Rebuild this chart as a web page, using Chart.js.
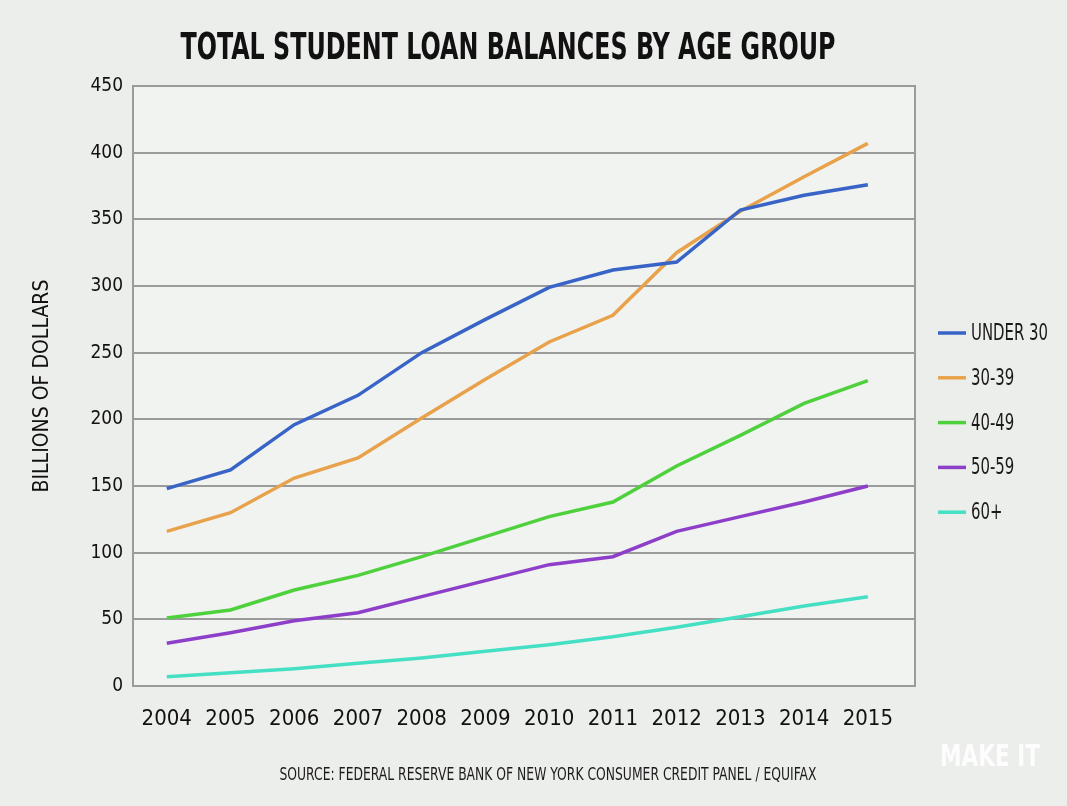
<!DOCTYPE html>
<html>
<head>
<meta charset="utf-8">
<script src="https://cdn.jsdelivr.net/npm/chart.js@4.4.1/dist/chart.umd.min.js"></script>
<style>
  html, body { margin: 0; padding: 0; background: #eceeeb; }
  #wrap { width: 1067px; height: 806px; position: relative; }
</style>
</head>
<body>
<div id="wrap"><canvas id="loanChart" width="1067" height="806"></canvas></div>
<script>
// data (billions of dollars)
const years = [2004, 2005, 2006, 2007, 2008, 2009, 2010, 2011, 2012, 2013, 2014, 2015];
const seriesNames = ['UNDER 30', '30-39', '40-49', '50-59', '60+'];
const under30 = [148, 162, 196, 218, 250, 275, 299, 312, 318, 357, 368, 376];
const age30to39 = [116, 130, 156, 171, 201, 230, 258, 278, 325, 356, 382, 407];
const age40to49 = [51, 57, 72, 83, 97, 112, 127, 138, 165, 188, 212, 229];
const age50to59 = [32, 40, 49, 55, 67, 79, 91, 97, 116, 127, 138, 150];
const age60plus = [7, 10, 13, 17, 21, 26, 31, 37, 44, 52, 60, 67];
const yTicks = [0, 50, 100, 150, 200, 250, 300, 350, 400, 450];

const colors = ['#3764c6', '#e9a24c', '#4fd13d', '#8e3fc9', '#45dfc4'];
const FONT = "'Liberation Sans Narrow', 'DejaVu Sans Condensed', sans-serif";

// draw text squeezed to a given width (the original uses a very condensed face)
function drawSqueezed(ctx, text, x, y, font, width, align) {
    ctx.save();
    ctx.font = font;
    const w = ctx.measureText(text).width;
    const sx = width ? width / w : 1;
    ctx.translate(x, y);
    ctx.scale(sx, 1);
    ctx.textAlign = align || 'center';
    ctx.textBaseline = 'middle';
    ctx.fillText(text, 0, 0);
    ctx.restore();
    return sx;
}

// background, plot box, title, legend and footer
const decorations = {
    id: 'decorations',
    beforeDraw(chart) {
        const ctx = chart.ctx;
        const a = chart.chartArea;
        ctx.save();
        ctx.fillStyle = '#eceeeb';
        ctx.fillRect(0, 0, chart.width, chart.height);
        ctx.fillStyle = '#f1f3f0';
        ctx.fillRect(a.left, a.top, a.right - a.left, a.bottom - a.top);
        ctx.restore();
    },
    beforeDatasetsDraw(chart) {
        const ctx = chart.ctx;
        const a = chart.chartArea;
        ctx.save();
        ctx.strokeStyle = '#9b9b9b';
        ctx.lineWidth = 2;
        ctx.strokeRect(a.left, a.top, a.right - a.left, a.bottom - a.top);
        ctx.restore();
    },
    afterDraw(chart) {
        const ctx = chart.ctx;
        ctx.save();
        ctx.fillStyle = '#111';
        drawSqueezed(ctx, 'TOTAL STUDENT LOAN BALANCES BY AGE GROUP', 508, 49, 'bold 37px ' + FONT, 655);

        ctx.fillStyle = '#1c1c1c';
        drawSqueezed(ctx, 'SOURCE: FEDERAL RESERVE BANK OF NEW YORK CONSUMER CREDIT PANEL / EQUIFAX', 548, 776, '17px ' + FONT, 537);

        // legend
        ctx.font = '23px ' + FONT;
        const sx = 77 / ctx.measureText('UNDER 30').width;
        chart.data.datasets.forEach((ds, i) => {
            const y = 333 + i * 44.8;
            ctx.strokeStyle = ds.borderColor;
            ctx.lineWidth = 3.5;
            ctx.beginPath();
            ctx.moveTo(938, y);
            ctx.lineTo(966, y);
            ctx.stroke();
            ctx.fillStyle = '#1a1a1a';
            ctx.save();
            ctx.translate(971, y + 1);
            ctx.scale(sx, 1);
            ctx.font = '23px ' + FONT;
            ctx.textAlign = 'left';
            ctx.textBaseline = 'middle';
            ctx.fillText(ds.label, 0, 0);
            ctx.restore();
        });

        // logo watermark
        ctx.fillStyle = 'rgba(255,255,255,0.85)';
        drawSqueezed(ctx, 'MAKE IT', 990, 758, 'bold 30px ' + FONT, 100);
        ctx.restore();
    }
};

const allSeries = [under30, age30to39, age40to49, age50to59, age60plus];

const datasets = allSeries.map((values, i) => ({
    label: seriesNames[i],
    data: values.map((v, j) => ({ x: years[j], y: v })),
    borderColor: colors[i],
    backgroundColor: colors[i],
    borderWidth: 3.5,
    pointRadius: 0,
    tension: 0,
    fill: false
}));

const ctx = document.getElementById('loanChart').getContext('2d');
const loanChart = new Chart(ctx, {
    type: 'line',
    data: { datasets: datasets },
    plugins: [decorations],
    options: {
        responsive: false,
        animation: false,
        layout: { padding: { left: 0, top: 86, right: 152, bottom: 60 } },
        plugins: {
            legend: { display: false },
            tooltip: { enabled: false }
        },
        scales: {
            x: {
                type: 'linear',
                min: 2003.47,
                max: 2015.74,
                afterFit: scale => { scale.height = 60; },
                afterBuildTicks: scale => { scale.ticks = years.map(v => ({ value: v })); },
                grid: { display: false, drawTicks: false },
                border: { display: false },
                ticks: {
                    padding: 20,
                    color: '#111',
                    font: { family: FONT, size: 22 },
                    callback: v => String(v)
                }
            },
            y: {
                min: 0,
                max: 450,
                afterFit: scale => { scale.width = 133; },
                afterBuildTicks: scale => { scale.ticks = yTicks.map(v => ({ value: v })); },
                grid: { color: '#9b9b9b', lineWidth: 2, drawTicks: false },
                border: { display: true, color: '#9b9b9b', width: 2 },
                ticks: {
                    padding: 10,
                    color: '#111',
                    font: { family: FONT, size: 19 }
                },
                title: {
                    display: true,
                    text: 'BILLIONS OF DOLLARS',
                    color: '#111',
                    font: { family: FONT, size: 21 },
                    padding: { top: 30, bottom: 0 }
                }
            }
        }
    }
});
</script>
</body>
</html>
